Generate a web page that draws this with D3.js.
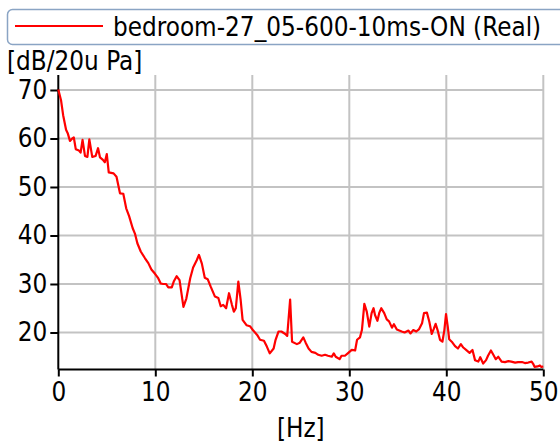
<!DOCTYPE html>
<html><head><meta charset="utf-8">
<script src="https://cdn.jsdelivr.net/npm/d3@7"></script>
<style>
html,body{margin:0;padding:0;background:#fff;}
svg{display:block;}
text{font-family:"DejaVu Sans","Liberation Sans",sans-serif;font-stretch:condensed;fill:#000;}
</style></head>
<body><svg id="c" width="560" height="443"></svg>
<script>
const seriesName = "bedroom-27_05-600-10ms-ON (Real)";
const yLabel = "[dB/20u Pa]";
const xLabel = "[Hz]";
const xTicks = [0, 10, 20, 30, 40, 50];
const yTicks = [20, 30, 40, 50, 60, 70];
const freq = [0,0.28,0.5,0.8,0.97,1.2,1.44,1.6,1.8,2.13,2.3,2.5,2.75,3.0,3.2,3.5,3.85,4.1,4.3,4.6,4.8,5.0,5.2,5.7,6.0,6.36,6.7,7.0,7.3,7.67,7.9,8.15,8.5,8.94,9.28,9.6,9.97,10.3,10.56,10.8,11.1,11.34,11.7,11.9,12.2,12.5,12.9,13.2,13.6,13.9,14.27,14.5,14.8,15.1,15.4,15.7,16.15,16.5,16.74,17.0,17.3,17.6,17.9,18.1,18.3,18.56,18.8,19.0,19.4,19.76,20.1,20.5,20.8,21.2,21.5,21.8,22.2,22.4,22.7,23.0,23.4,23.6,23.9,24.1,24.6,24.9,25.26,25.5,25.8,26.1,26.5,26.8,27.15,27.5,27.8,28.2,28.4,28.6,29.0,29.2,29.55,29.9,30.25,30.6,30.8,31.1,31.3,31.4,31.55,31.8,32.06,32.3,32.5,32.65,32.9,33.1,33.3,33.6,33.86,34.1,34.4,34.6,34.9,35.15,35.4,35.7,36.1,36.3,36.6,36.9,37.2,37.5,37.7,38.0,38.25,38.5,38.7,38.9,39.1,39.35,39.6,39.8,39.97,40.15,40.3,40.56,40.9,41.2,41.5,41.75,42.1,42.4,42.7,42.96,43.3,43.5,43.8,44.1,44.3,44.6,44.85,45.1,45.36,45.7,46.05,46.4,46.7,47.1,47.4,47.8,48.1,48.45,48.8,48.97,49.1,49.4,49.65,49.8,50];
const db = [70.1,67.9,64.8,61.8,61.1,59.5,60,60.2,57.8,57.5,57.1,59.7,56.4,56.2,59.8,56.2,56.4,58,56.1,55.6,55.1,56.8,53,52.8,52.1,48.7,48.6,45.6,44,41.5,40.4,38.4,36.7,35.3,34.3,33,32.1,31.2,30.1,30,30,29.3,29.3,30.5,31.6,30.8,25.3,27,31.2,33.4,34.9,36,34.2,31.3,31,29.5,27.4,27.1,25.4,25.7,25,28.1,25.7,24.3,25,30.5,26.7,22.6,21.5,21.3,20.4,19.5,18.5,18.3,17.1,15.7,16.7,18.5,20.2,20.2,19.7,19.3,26.8,18.1,17.6,17.9,19,17.9,16.7,16,15.8,15.4,15.2,15.4,15.2,15,15.7,15,14.5,15.2,15.2,15.8,16.4,16.3,18.5,19,20.5,22.6,25.9,24.3,21.2,24,25,23.6,22.4,24.1,25,24,22.7,22.3,21,21.7,20.6,20.4,20.2,20,20.4,19.8,20.5,20.2,20.7,21.9,24,24.1,22.2,19.7,20.7,21.8,20.5,18.5,18.1,20.5,23.8,21.2,18.6,18.1,17.2,16.7,17.6,16.9,16.3,15.8,16.4,14.3,14,14.9,13.6,14.3,15.2,16.3,15.4,14.5,15,14,13.9,14.1,14,13.8,13.9,13.9,13.7,13.8,14,13.5,12.9,13,13.2,12.9,13];

const svg = d3.select("#c");
const L = 58.3, R = 543.3, T = 75, B = 369.5;
const x = d3.scaleLinear().domain([0, 50]).range([L, R]);
const y = d3.scaleLinear().domain([12.37, 73.09]).range([B, T]);
const grid = "#c3c3c3";
const fs = "25.8px";

// gridlines
svg.append("g").selectAll("line").data(xTicks.filter(d => d > 0)).join("line")
  .attr("x1", d => x(d)).attr("x2", d => x(d)).attr("y1", T).attr("y2", B)
  .attr("stroke", grid).attr("stroke-width", 2);
svg.append("g").selectAll("line").data(yTicks).join("line")
  .attr("x1", L).attr("x2", R).attr("y1", d => y(d)).attr("y2", d => y(d))
  .attr("stroke", grid).attr("stroke-width", 2);

// axes
const xAxis = d3.axisBottom(x).tickValues(xTicks).tickSize(7).tickPadding(6).tickSizeOuter(0);
const yAxis = d3.axisLeft(y).tickValues(yTicks).tickSize(8).tickPadding(3).tickSizeOuter(0);
const gx = svg.append("g").attr("transform", `translate(0,${B})`).call(xAxis);
const gy = svg.append("g").attr("transform", `translate(${L},0)`).call(yAxis);
[gx, gy].forEach(g => {
  g.select(".domain").attr("stroke", "#000").attr("stroke-width", 2);
  g.selectAll(".tick line").attr("stroke", "#000").attr("stroke-width", 2);
  g.selectAll(".tick text").style("font-size", fs).attr("fill", "#000");
});
gy.select(".domain").attr("d", `M0,${T}V${B}`);
gx.select(".domain").attr("d", `M${L},0H${R}`);

// line
const line = d3.line().x((d, i) => x(freq[i])).y(d => y(d));
svg.append("path").datum(db).attr("d", line).attr("fill", "none")
  .attr("stroke", "#ff0000").attr("stroke-width", 2.2).attr("stroke-linejoin", "round");

// labels
svg.append("text").attr("x", 7).attr("y", 70).style("font-size", fs).text(yLabel);
svg.append("text").attr("x", x(25)).attr("y", 437).attr("text-anchor", "middle").style("font-size", fs).text(xLabel);

// legend
svg.append("rect").attr("x", 7.5).attr("y", 9.5).attr("width", 580).attr("height", 35).attr("rx", 5)
  .attr("fill", "#fff").attr("stroke", "#8aa4c4").attr("stroke-width", 1.5);
svg.append("line").attr("x1", 15).attr("x2", 103).attr("y1", 26).attr("y2", 26)
  .attr("stroke", "#ff0000").attr("stroke-width", 2);
svg.append("text").attr("x", 113).attr("y", 36).style("font-size", fs).text(seriesName);
</script></body></html>
